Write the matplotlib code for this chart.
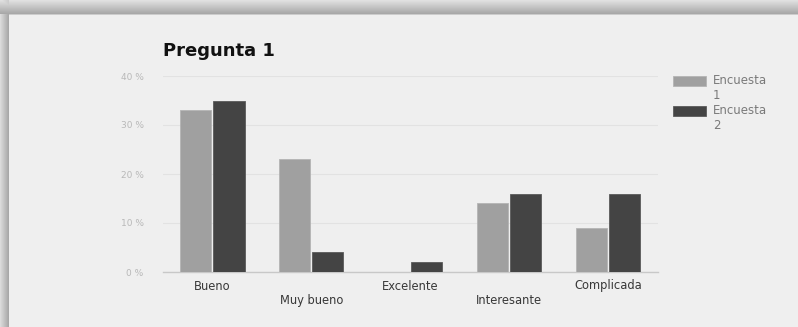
import numpy as np
import matplotlib
matplotlib.use("Agg")
import matplotlib.pyplot as plt
from matplotlib.patches import Rectangle

categories = ["Bueno", "Muy bueno", "Excelente", "Interesante", "Complicada"]
encuesta1 = [33, 23, 0, 14, 9]
encuesta2 = [35, 4, 2, 16, 16]
series_labels = ["Encuesta\n1", "Encuesta\n2"]
series_colors = ["#a0a0a0", "#444444"]
series_edges = ["#b4b4b4", "#5a5a5a"]
yticks = [0, 10, 20, 30, 40]
title = "Pregunta 1"

W, H = 798, 327
plt.rcParams['font.family'] = ['DejaVu Sans']
fig = plt.figure(figsize=(W / 100, H / 100), dpi=100, facecolor="#f0f0f0")

# background frame with shadow
bg = fig.add_axes([0, 0, 1, 1], zorder=-5)
img = np.full((H, W), 0.941)
top_h, left_w = 14, 9
for yy in range(top_h):
    t = yy / (top_h - 1)
    img[yy, :] = 0.88 - 0.22 * t
for xx in range(left_w):
    t = xx / (left_w - 1)
    v = 0.86 - 0.20 * t
    img[top_h:, xx] = v
    img[:top_h, xx] = np.minimum(img[:top_h, xx], 0.90 - 0.10 * t)
img[top_h, left_w:] = 0.80
bg.imshow(np.dstack([img] * 3), aspect="auto", extent=[0, W, H, 0], interpolation="bilinear")
bg.set_xlim(0, W)
bg.set_ylim(H, 0)
bg.axis("off")

x0, x1 = 163, 657.5
ytop, ybot = 76, 272
ax = fig.add_axes([x0 / W, (H - ybot) / H, (x1 - x0) / W, (ybot - ytop) / H])
ax.set_facecolor("none")

x = np.arange(len(categories))
w = 0.315
gap = 0.01
ax.bar(x - w / 2 - gap, encuesta1, w, color=series_colors[0], edgecolor=series_edges[0], linewidth=0.6, zorder=3)
ax.bar(x + w / 2 + gap, encuesta2, w, color=series_colors[1], edgecolor=series_edges[1], linewidth=0.6, zorder=3)

ax.set_xlim(-0.5, len(categories) - 0.5)
ax.set_ylim(0, 40)
ax.set_yticks(yticks)
ax.set_yticklabels([f"{v} %" for v in yticks], color="#b8b8b8", fontsize=6.5)
ax.grid(axis="y", color="#e2e2e2", linewidth=0.8, zorder=0)
for s in ["top", "right", "left"]:
    ax.spines[s].set_visible(False)
ax.spines["bottom"].set_color("#c8c8c8")
ax.spines["bottom"].set_linewidth(1)
ax.tick_params(axis="y", length=0, pad=14)
ax.tick_params(axis="x", length=0)
ax.set_xticks(x)
ax.set_xticklabels([])
for i, c in enumerate(categories):
    yoff = 286 if i % 2 == 0 else 300.5
    fig.text((x0 + (i + 0.5) * (x1 - x0) / len(categories)) / W, (H - yoff) / H, c,
             ha="center", va="center", fontsize=8.3, color="#383838")

fig.text(163 / W, (H - 51) / H, title, fontsize=13, fontweight="bold", color="#111111",
         ha="left", va="center")

# legend (patch aligned with first line of wrapped label)
for k, (lab, col, ec) in enumerate(zip(series_labels, series_colors, series_edges)):
    ptop = 76 + 30 * k
    fig.add_artist(Rectangle((673 / W, (H - ptop - 10) / H), 33 / W, 10 / H,
                             transform=fig.transFigure, facecolor=col, edgecolor=ec, linewidth=0.6))
    fig.text(713 / W, (H - ptop + 2) / H, lab, fontsize=8.5, color="#7a7a7a",
             ha="left", va="top", linespacing=1.15)

fig.savefig("out.png", dpi=100, facecolor=fig.get_facecolor())
